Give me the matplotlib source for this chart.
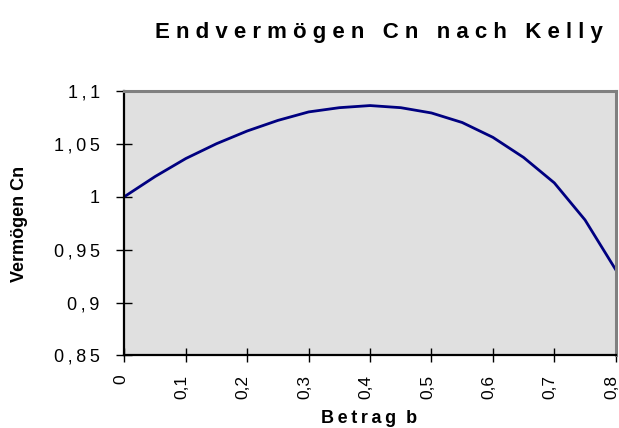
import numpy as np
import matplotlib
matplotlib.use("Agg")
import matplotlib.pyplot as plt
import matplotlib.transforms as mtransforms
from matplotlib.ticker import FixedLocator, FuncFormatter

plt.rcParams['font.family'] = ['Liberation Sans', 'DejaVu Sans']

# Daten
betrag_b = [0.0, 0.05, 0.1, 0.15, 0.2, 0.25, 0.3, 0.35, 0.4,
            0.45, 0.5, 0.55, 0.6, 0.65, 0.7, 0.75, 0.8]
vermoegen_cn = [1.000, 1.019, 1.036, 1.050, 1.062, 1.072, 1.080, 1.084, 1.086,
                1.084, 1.079, 1.070, 1.056, 1.037, 1.013, 0.978, 0.931]
x_ticks = [0, 0.1, 0.2, 0.3, 0.4, 0.5, 0.6, 0.7, 0.8]
y_ticks = [0.85, 0.9, 0.95, 1.0, 1.05, 1.1]

title = "Endvermögen Cn nach Kelly"
x_label = "Betrag b"
y_label = "Vermögen Cn"


def gesperrt(s, sep=" ", wsep="   "):
    # Sperrschrift wie im Original
    return wsep.join(sep.join(w) for w in s.split(" "))


def komma(v, pos=None):
    s = ("%g" % round(v, 2)).replace(".", ",")
    return "\u2009".join(s)


fig = plt.figure(figsize=(6.19, 4.28), dpi=100)
ax = fig.add_axes([0.201, 0.1694, 0.7937, 0.6186])
ax.set_facecolor("#e0e0e0")

ax.plot(betrag_b, vermoegen_cn, color="#000080", lw=2.0, solid_joinstyle="round")

ax.set_xlim(0, 0.8)
ax.set_ylim(0.85, 1.1)
ax.xaxis.set_major_locator(FixedLocator(x_ticks))
ax.yaxis.set_major_locator(FixedLocator(y_ticks))
ax.xaxis.set_major_formatter(FuncFormatter(lambda v, p: ("%g" % round(v, 1)).replace(".", ",")))
ax.yaxis.set_major_formatter(FuncFormatter(komma))

ax.tick_params(axis="y", direction="inout", length=11.5, width=1, labelsize=13, pad=12)
ax.tick_params(axis="x", direction="inout", length=9.5, width=1, labelsize=12.5, pad=9,
               labelrotation=90)

# Beschriftungen der x-Achse leicht nach links versetzt
versatz = mtransforms.ScaledTranslation(-4 / 100, 0, fig.dpi_scale_trans)
for lab in ax.get_xticklabels():
    lab.set_transform(lab.get_transform() + versatz)

for s in ("left", "bottom"):
    ax.spines[s].set_color("black")
    ax.spines[s].set_linewidth(1.6)
for s in ("top", "right"):
    ax.spines[s].set_color("#808080")
    ax.spines[s].set_linewidth(2.2)

fig.text(0.612, 0.925, gesperrt(title), ha="center", va="center",
         fontsize=16, fontweight="bold")
fig.text(0.596, 0.023, gesperrt(x_label, sep="\u2009", wsep="  "), ha="center", va="center",
         fontsize=13, fontweight="bold")
fig.text(0.031, 0.477, y_label, ha="center", va="center", rotation=90,
         fontsize=13, fontweight="bold")

fig.savefig("out.png", dpi=100)
